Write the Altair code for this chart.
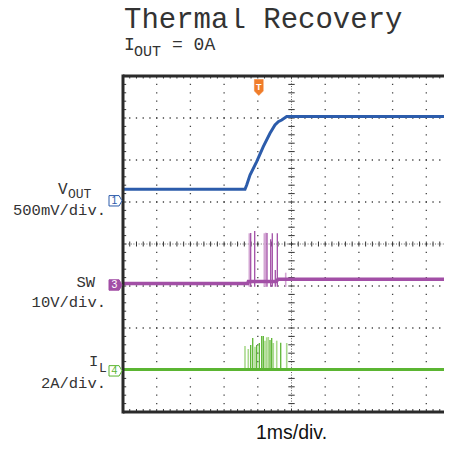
import altair as alt
import pandas as pd

# ---- geometry of the scope screen (divisions) ----
PX = 33.7          # px per horizontal division
PY = 42.0          # px per vertical division
W = 321            # visible plot width (screen is cropped at right)
H = 336            # 8 divisions
XMAX = W / PX

# ---- data, in screen divisions (x: 0..10, y: 0..8 from bottom) ----
vout_x = [0.0, 3.620, 3.671, 3.769, 3.967, 4.163, 4.362, 4.510, 4.608, 4.709, 4.858, 9.763]
vout_y = [5.302, 5.302, 5.405, 5.643, 5.960, 6.317, 6.636, 6.833, 6.912, 6.952, 7.036, 7.036]

sw_x = [0.0, 3.70, 3.72, 4.55, 4.60, 9.763]
sw_y = [3.06, 3.06, 3.107, 3.107, 3.16, 3.16]

sw_spike_x = [3.789, 3.908, 4.273, 4.383, 4.430, 4.519, 4.579]
sw_spike_top = [4.262, 4.310, 4.262, 4.112, 4.255, 3.38, 4.255]
sw_faint_x = [3.748, 4.193, 4.234, 4.828]
sw_faint_top = [4.255, 4.255, 4.269, 3.317]
sw_spike_base = 2.98

il_x = [0.0, 9.763]
il_y = [1.012, 1.012]
il_spike_x = [3.789, 3.849, 3.967, 4.045, 4.116, 4.163, 4.362, 4.412, 4.680]
il_spike_top = [1.595, 1.762, 1.595, 1.643, 1.810, 1.810, 1.714, 1.762, 1.650]
il_faint_x = [3.620, 3.718, 3.917, 4.214, 4.264, 4.312, 4.460, 4.561, 4.858]
il_faint_top = [1.571, 1.500, 1.555, 1.698, 1.779, 1.786, 1.643, 1.698, 1.643]
il_spike_base = 1.0

# channel markers / trigger
ch_labels = ["1", "3", "4"]
ch_y = [5.029, 3.024, 0.98]
trig_x = 4.03

BLUE = "#2c5cab"
PURPLE = "#a24fa6"
PURPLE_L = "#d3a6d3"
GREEN = "#5bb532"
GREEN_L = "#a9d98c"
ORANGE = "#f07d2a"
FRAME = "#2a2a2a"
MONO = "Liberation Mono"

xs = alt.Scale(domain=[0, XMAX], nice=False, zero=False)
ys = alt.Scale(domain=[0, 8], nice=False, zero=False)


def X(f="x"):
    return alt.X(f + ":Q", scale=xs, axis=None)


def Y(f="y"):
    return alt.Y(f + ":Q", scale=ys, axis=None)


# ---- graticule ----
major_v = [1, 2, 3, 4, 6, 7, 8, 9]
major_h = [1, 2, 3, 5, 6, 7]
grid_v = alt.Chart(pd.DataFrame({"x": major_v, "y": [0] * 8, "y2": [8] * 8})).mark_rule(
    color="#444", strokeWidth=1.3, strokeDash=[1.3, PY / 5 - 1.3], strokeDashOffset=0.65
).encode(x=X(), y=Y(), y2="y2:Q")
grid_h = alt.Chart(pd.DataFrame({"y": major_h, "x": [0] * 6, "x2": [XMAX] * 6})).mark_rule(
    color="#444", strokeWidth=1.3, strokeDash=[1.3, PX / 5 - 1.3], strokeDashOffset=0.65
).encode(x=X(), x2="x2:Q", y=Y())
center = pd.DataFrame({"x": [5, 0], "x2": [5, XMAX], "y": [0, 4], "y2": [8, 4]})
grid_c = alt.Chart(center).mark_rule(color="#666", strokeWidth=1, strokeDash=[1, 1.6]).encode(
    x=X(), x2="x2:Q", y=Y(), y2="y2:Q"
)

minor_y = [round(i * 0.2, 3) for i in range(1, 40)]
minor_x = [round(i * 0.2, 3) for i in range(1, int(XMAX / 0.2) + 1)]
rows = []
for v in minor_y:
    rows.append((0, 3.2 / PX, v, v))                    # left edge
    rows.append((5 - 3.2 / PX, 5 + 3.2 / PX, v, v))     # centre vertical
for v in minor_x:
    rows.append((v, v, 0, 3 / PY))                      # bottom edge
    rows.append((v, v, 8, 8 - 2.5 / PY))                # top edge
    rows.append((v, v, 4 - 2.5 / PY, 4 + 2.5 / PY))     # centre horizontal
ticks = alt.Chart(pd.DataFrame(rows, columns=["x", "x2", "y", "y2"])).mark_rule(
    color="#333", strokeWidth=1
).encode(x=X(), x2="x2:Q", y=Y(), y2="y2:Q")

# ---- traces ----
vout = alt.Chart(pd.DataFrame({"x": vout_x, "y": vout_y})).mark_line(
    color=BLUE, strokeWidth=3, clip=True
).encode(x=X(), y=Y())

sw_faint = alt.Chart(pd.DataFrame({"x": sw_faint_x, "y": [sw_spike_base] * len(sw_faint_x), "y2": sw_faint_top})).mark_rule(
    color=PURPLE_L, strokeWidth=1.6
).encode(x=X(), y=Y(), y2="y2:Q")
sw_spk = alt.Chart(pd.DataFrame({"x": sw_spike_x, "y": [sw_spike_base] * len(sw_spike_x), "y2": sw_spike_top})).mark_rule(
    color=PURPLE, strokeWidth=1.3
).encode(x=X(), y=Y(), y2="y2:Q")
sw = alt.Chart(pd.DataFrame({"x": sw_x, "y": sw_y})).mark_line(
    color=PURPLE, strokeWidth=3.5, clip=True
).encode(x=X(), y=Y())

il_faint = alt.Chart(pd.DataFrame({"x": il_faint_x, "y": [il_spike_base] * len(il_faint_x), "y2": il_faint_top})).mark_rule(
    color=GREEN_L, strokeWidth=1.6
).encode(x=X(), y=Y(), y2="y2:Q")
il_spk = alt.Chart(pd.DataFrame({"x": il_spike_x, "y": [il_spike_base] * len(il_spike_x), "y2": il_spike_top})).mark_rule(
    color=GREEN, strokeWidth=1.3
).encode(x=X(), y=Y(), y2="y2:Q")
il = alt.Chart(pd.DataFrame({"x": il_x, "y": il_y})).mark_line(
    color=GREEN, strokeWidth=3.2, clip=True
).encode(x=X(), y=Y())

# ---- frame ----
frame = alt.Chart(pd.DataFrame({
    "x": [0, 0, 0], "x2": [0, XMAX, XMAX], "y": [-0.035, 8, 0], "y2": [8.035, 8, 0]
})).mark_rule(color=FRAME, strokeWidth=3).encode(x=X(), x2="x2:Q", y=Y(), y2="y2:Q")

# ---- channel markers ----
ARROW = "M-1,-0.8L0.55,-0.8L1,0L0.55,0.8L-1,0.8Z"
mk_x = -7.5 / PX
m1 = alt.Chart(pd.DataFrame({"x": [mk_x], "y": [ch_y[0]]})).mark_point(
    shape=ARROW, size=169, filled=True, fill="white", stroke=BLUE, strokeWidth=1, opacity=1
).encode(x=X(), y=Y())
m3 = alt.Chart(pd.DataFrame({"x": [mk_x], "y": [ch_y[1]]})).mark_point(
    shape=ARROW, size=169, filled=True, fill=PURPLE, stroke=PURPLE, strokeWidth=1, opacity=1
).encode(x=X(), y=Y())
m4 = alt.Chart(pd.DataFrame({"x": [mk_x], "y": [ch_y[2]]})).mark_point(
    shape=ARROW, size=169, filled=True, fill="white", stroke=GREEN, strokeWidth=1, opacity=1
).encode(x=X(), y=Y())
mk_txt = alt.Chart(pd.DataFrame({"x": [mk_x] * 3, "y": ch_y, "t": ch_labels, "c": [BLUE, "white", GREEN]})).mark_text(
    font="Liberation Sans", fontSize=10.5, align="center", baseline="middle", dx=-1
).encode(x=X(), y=Y(), text="t:N", color=alt.Color("c:N", scale=None))

TRIG = "M-0.55,-1L0.55,-1L0.55,0.45L0,1L-0.55,0.45Z"
trig_y = 8 - 11.5 / PY
trig = alt.Chart(pd.DataFrame({"x": [trig_x], "y": [trig_y]})).mark_point(
    shape=TRIG, size=256, filled=True, fill=ORANGE, stroke=ORANGE, strokeWidth=0.5, opacity=1
).encode(x=X(), y=Y())
trig_t = alt.Chart(pd.DataFrame({"x": [trig_x], "y": [trig_y], "t": ["T"]})).mark_text(
    font="Liberation Sans", fontSize=9, fontWeight="bold", color="white", align="center", baseline="middle", dy=-1
).encode(x=X(), y=Y(), text="t:N")


# ---- texts ----
def px_x(p):
    return (p - 123) / PX


def px_y(p):
    return 8 - (p - 76) / PY


def txt(items, size, align, font=MONO, color="#333"):
    df = pd.DataFrame(items, columns=["x", "y", "t"])
    return alt.Chart(df).mark_text(
        font=font, fontSize=size, align=align, baseline="alphabetic", color=color
    ).encode(x=X(), y=Y(), text="t:N")


title = txt([(px_x(124), px_y(27.5), "Thermal Recovery")], 29, "left")
sub_big = txt([(px_x(124), px_y(50), "I"), (px_x(172), px_y(50), "= 0A")], 18, "left")
sub_small = txt([(px_x(134), px_y(56), "OUT")], 15, "left")

lbl_main = txt([
    (px_x(106), px_y(215), "500mV/div."),
    (px_x(95), px_y(287), "SW"),
    (px_x(106), px_y(307), "10V/div."),
    (px_x(106), px_y(388), "2A/div."),
], 15.5, "right")
lbl_v = txt([(px_x(67.5), px_y(194), "V")], 16, "right")
lbl_i = txt([(px_x(89), px_y(366), "I")], 15.5, "left")
lbl_sub = txt([(px_x(68), px_y(198), "OUT"), (px_x(99), px_y(372), "L")], 13, "left")

xlabel = txt([(5.0, px_y(439), "1ms/div.")], 19.5, "center", font="Liberation Sans", color="#111")

chart = alt.layer(
    grid_v, grid_h, grid_c, ticks,
    il_faint, il_spk, il,
    sw_faint, sw_spk, sw,
    vout,
    frame,
    m1, m3, m4, mk_txt, trig, trig_t,
    title, sub_big, sub_small, lbl_main, lbl_v, lbl_i, lbl_sub, xlabel,
).properties(
    width=W, height=H,
    padding={"left": 115, "top": 68, "right": 0, "bottom": 37},
    autosize=alt.AutoSizeParams(type="none"),
).configure_view(stroke=None)

chart.save("out.html", embed_options={"renderer": "svg", "actions": False})
